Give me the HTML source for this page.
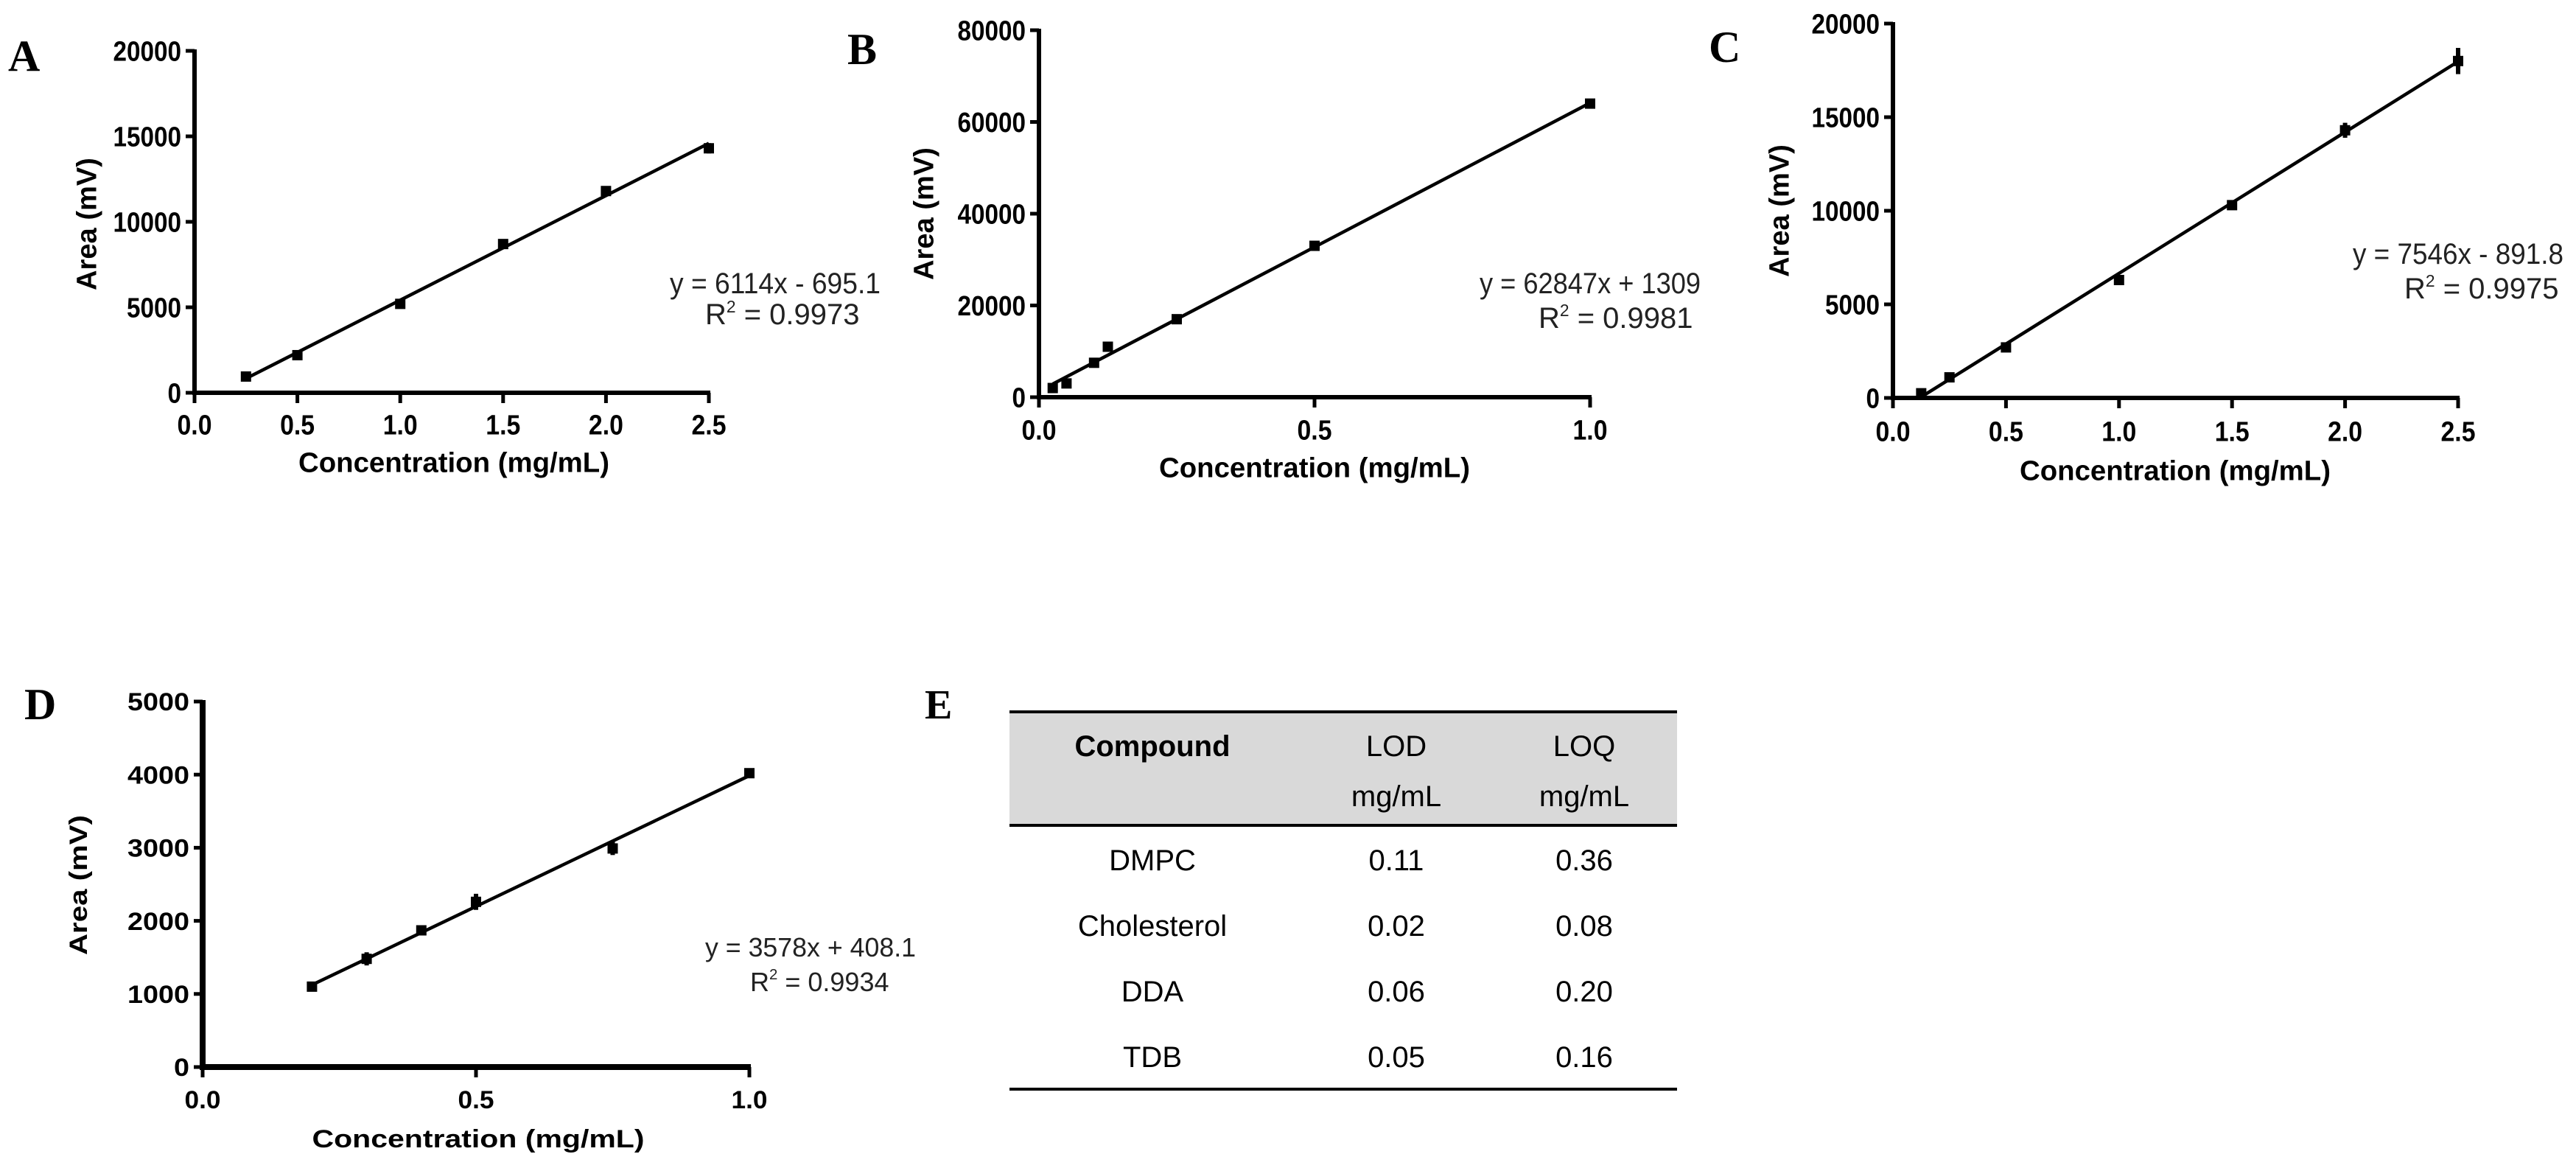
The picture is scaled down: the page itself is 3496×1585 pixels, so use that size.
<!DOCTYPE html>
<html><head><meta charset="utf-8"><style>
html,body{margin:0;padding:0;background:#fff;}
svg{display:block;font-family:"Liberation Sans",Arial,sans-serif;}
</style></head><body>
<svg id="fig" width="3496" height="1585" viewBox="0 0 3496 1585" xmlns="http://www.w3.org/2000/svg">
<g id="panels"></g>
<g id="table">
  <text x="1255" y="975" font-family="Liberation Serif,serif" font-weight="bold" font-size="56">E</text>
  <rect x="1370" y="966" width="906" height="154" fill="#d9d9d9"/>
  <line x1="1370" x2="2276" y1="966" y2="966" stroke="#000" stroke-width="4"/>
  <line x1="1370" x2="2276" y1="1120" y2="1120" stroke="#000" stroke-width="4"/>
  <line x1="1370" x2="2276" y1="1478" y2="1478" stroke="#000" stroke-width="4"/>
  <g font-size="40" text-anchor="middle" fill="#000">
    <text x="1564" y="1026" font-weight="bold">Compound</text>
    <text x="1895" y="1026">LOD</text>
    <text x="1895" y="1094">mg/mL</text>
    <text x="2150" y="1026">LOQ</text>
    <text x="2150" y="1094">mg/mL</text>
    <text x="1564" y="1181">DMPC</text>
    <text x="1895" y="1181">0.11</text>
    <text x="2150" y="1181">0.36</text>
    <text x="1564" y="1270">Cholesterol</text>
    <text x="1895" y="1270">0.02</text>
    <text x="2150" y="1270">0.08</text>
    <text x="1564" y="1359">DDA</text>
    <text x="1895" y="1359">0.06</text>
    <text x="2150" y="1359">0.20</text>
    <text x="1564" y="1448">TDB</text>
    <text x="1895" y="1448">0.05</text>
    <text x="2150" y="1448">0.16</text>
  </g>
</g>
</svg>
<script>
// ---- data ----
const aX = [0.25, 0.5, 1.0, 1.5, 2.0, 2.5];
const aY = [950, 2200, 5200, 8700, 11800, 14300];
const aErr = [150, 150, 200, 250, 250, 300];
const bX = [0.025, 0.05, 0.1, 0.125, 0.25, 0.5, 1.0];
const bY = [2000, 3000, 7500, 11000, 17000, 33000, 64000];
const bErr = [600, 700, 600, 500, 600, 500, 500];
const cX = [0.125, 0.25, 0.5, 1.0, 1.5, 2.0, 2.5];
const cY = [250, 1100, 2700, 6300, 10300, 14300, 18000];
const cErr = [250, 150, 200, 200, 150, 400, 700];
const dX = [0.2, 0.3, 0.4, 0.5, 0.75, 1.0];
const dY = [1100, 1480, 1870, 2260, 2990, 4020];
const dErr = [40, 90, 60, 110, 90, 60];
const fitSlope = [6114, 62847, 7546, 3578];
const fitIntercept = [-695.1, 1309, -891.8, 408.1];
const xTicksA = [0, 0.5, 1.0, 1.5, 2.0, 2.5];
const xTickLabelsA = ["0.0","0.5","1.0","1.5","2.0","2.5"];
const xTicksB = [0, 0.5, 1.0];
const xTickLabelsB = ["0.0","0.5","1.0"];
const yTicksA = [0, 5000, 10000, 15000, 20000];
const yTicksB = [0, 20000, 40000, 60000, 80000];
const yTicksD = [0, 1000, 2000, 3000, 4000, 5000];
const equations = ["y = 6114x - 695.1", "y = 62847x + 1309", "y = 7546x - 891.8", "y = 3578x + 408.1"];
const r2Values = ["0.9973", "0.9981", "0.9975", "0.9934"];

const NS = "http://www.w3.org/2000/svg";
const root = document.getElementById("panels");
function mk(tag, attrs, parent) {
  const e = document.createElementNS(NS, tag);
  for (const k in attrs) e.setAttribute(k, attrs[k]);
  parent.appendChild(e);
  return e;
}

const panels = [
  {id:"a", L:"A", lx:11, ly:96, xs:aX, ys:aY, er:aErr, xmax:2.5, ymax:20000, xt:xTicksA, xl:xTickLabelsA, yt:yTicksA,
   x0:264, x1:962, y0:533, y1:69, tly:576, tty:627, ttx:616, ytx:117, yty:304, ex:909, ey:384, rx:957, ry:426, fs:38, aw:6, cw:18.5, xw:47},
  {id:"b", L:"B", lx:1150, ly:87, xs:bX, ys:bY, er:bErr, xmax:1.0, ymax:80000, xt:xTicksB, xl:xTickLabelsB, yt:yTicksB,
   x0:1410, x1:2158, y0:539, y1:41, tly:583, tty:634, ttx:1784, ytx:1253, yty:290, ex:2008, ey:384, rx:2088, ry:431, fs:38, aw:6, cw:18.5, xw:47},
  {id:"c", L:"C", lx:2319, ly:84, xs:cX, ys:cY, er:cErr, xmax:2.5, ymax:20000, xt:xTicksA, xl:xTickLabelsA, yt:yTicksA,
   x0:2569, x1:3336, y0:540, y1:32, tly:585, tty:638, ttx:2952, ytx:2414, yty:286, ex:3193, ey:344, rx:3263, ry:391, fs:38, aw:6, cw:18.5, xw:47},
  {id:"d", L:"D", lx:33, ly:976, xs:dX, ys:dY, er:dErr, xmax:1.0, ymax:5000, xt:xTicksB, xl:xTickLabelsB, yt:yTicksD,
   x0:275, x1:1017, y0:1448, y1:952, tly:1492, tty:1545, ttx:649, ytx:106, yty:1201, ex:957, ey:1284, rx:1018, ry:1331, fs:34, aw:8, cw:21, xw:49}
];

panels.forEach((p, i) => {
  const g = mk("g", {}, root);
  
  
  const sx = v => p.x0 + (v / p.xmax) * (p.x1 - p.x0);
  const sy = v => p.y0 - (v / p.ymax) * (p.y0 - p.y1);

  const lab = mk("text", {x:p.lx, y:p.ly, "font-family":"Liberation Serif,serif", "font-weight":"bold", "font-size":"60"}, g);
  lab.textContent = p.L;
  
  

  const ya = mk("line", {x1:p.x0, x2:p.x0, y1:p.y1 - 2, y2:p.y0 + p.aw/2, stroke:"#000", "stroke-width":p.aw}, g);
  
  
  const xa = mk("line", {x1:p.x0 - 3, x2:p.x1 + 2, y1:p.y0, y2:p.y0, stroke:"#000", "stroke-width":p.aw}, g);
  
  

  p.yt.forEach(v => {
    const t = mk("line", {x1:p.x0 - 12, x2:p.x0, y1:sy(v), y2:sy(v), stroke:"#000", "stroke-width":5}, g);
    
    
    const s = String(v);
    const tx = mk("text", {x:p.x0 - 18, y:sy(v) + p.fs*0.36, "text-anchor":"end", "font-weight":"bold", "font-size":p.fs,
      textLength: s.length * p.cw, lengthAdjust:"spacingAndGlyphs"}, g);
    tx.textContent = s;
    
    
  });
  p.xt.forEach((v, k) => {
    const t = mk("line", {x1:sx(v), x2:sx(v), y1:p.y0, y2:p.y0 + 14, stroke:"#000", "stroke-width":5}, g);
    
    
    const tx = mk("text", {x:sx(v), y:p.tly + p.fs*0.36, "text-anchor":"middle", "font-weight":"bold", "font-size":p.fs,
      textLength: p.xw, lengthAdjust:"spacingAndGlyphs"}, g);
    tx.textContent = p.xl[k];
    
    
  });

  const xt = mk("text", {x:p.ttx, y:p.tty + p.fs*0.36, "text-anchor":"middle", "font-weight":"bold", "font-size":p.fs,
    textLength: (p.id === "d" ? 451 : 422), lengthAdjust:"spacingAndGlyphs"}, g);
  xt.textContent = "Concentration (mg/mL)";
  
  
  const yt = mk("text", {x:0, y:0, transform:`translate(${p.ytx + p.fs*0.36},${p.yty}) rotate(-90)`, "text-anchor":"middle",
    "font-weight":"bold", "font-size":p.fs, textLength:(p.id === "d" ? 190 : 180), lengthAdjust:"spacingAndGlyphs"}, g);
  yt.textContent = "Area (mV)";
  
  

  const xa0 = p.xs[0], xa1 = p.xs[p.xs.length - 1];
  const fl = mk("line", {x1:sx(xa0), y1:sy(fitSlope[i]*xa0 + fitIntercept[i]), x2:sx(xa1), y2:sy(fitSlope[i]*xa1 + fitIntercept[i]),
    stroke:"#000", "stroke-width":4.5}, g);
  
  

  p.xs.forEach((x, k) => {
    const cx = sx(x), cy = sy(p.ys[k]);
    const eb = mk("line", {x1:cx, x2:cx, y1:sy(p.ys[k] + p.er[k]), y2:sy(p.ys[k] - p.er[k]), stroke:"#000", "stroke-width":6}, g);
    
    
    const pt = mk("rect", {x:cx - 7, y:cy - 7, width:14, height:14, fill:"#000"}, g);
    
    
  });

  const eq = mk("text", {x:p.ex, y:p.ey + 14, "font-size":p.fs + 2, textLength:(i === 1 ? 300 : 286), lengthAdjust:"spacingAndGlyphs", fill:"#222"}, g);
  eq.textContent = equations[i];
  
  
  const r2 = mk("text", {x:p.rx, y:p.ry + 14, "font-size":p.fs + 2, fill:"#222"}, g);
  
  
  const t1 = mk("tspan", {}, r2); t1.textContent = "R";
  const t2 = mk("tspan", {dy:-16, "font-size":p.fs*0.6}, r2); t2.textContent = "2";
  const t3 = mk("tspan", {dy:16}, r2); t3.textContent = " = " + r2Values[i];
});
</script>
</body></html>
